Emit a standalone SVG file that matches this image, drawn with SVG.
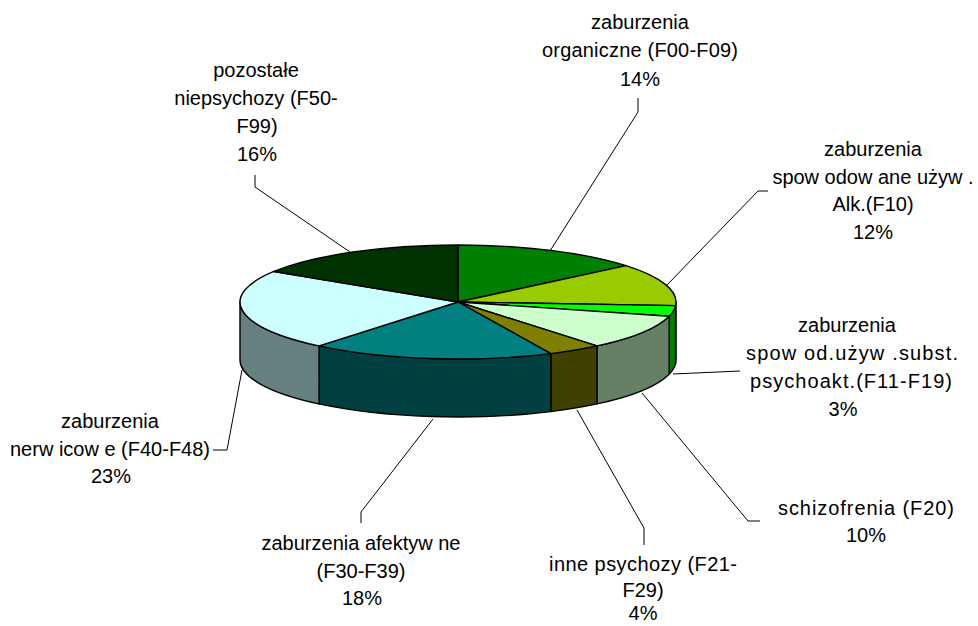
<svg xmlns="http://www.w3.org/2000/svg" width="978" height="626" viewBox="0 0 978 626">
<style>
.t { font-family: "Liberation Sans", Arial, sans-serif; font-size: 20px; fill: #000; text-anchor: middle; }
.e { stroke: #000; stroke-width: 1.4; stroke-linejoin: round; }
.lead { fill: none; stroke: #000; stroke-width: 1; }
</style>
<rect width="978" height="626" fill="#fff"/>
<g id="slice-organiczne">
  <path class="e" fill="#008000" d="M458 302 L458 245 A218 57 0 0 1 625.97 265.67 Z"/>
  <text class="t" x="640" y="28.5">zaburzenia</text>
  <text class="t" x="640" y="57" textLength="196" lengthAdjust="spacing">organiczne (F00-F09)</text>
  <text class="t" x="640" y="86">14%</text>
</g>
<g id="slice-alkohol">
  <path class="e" fill="#4C6600" d="M676 302 A218 57 0 0 1 675.57 305.58 L675.57 363.58 A218 57 0 0 0 676 360 Z"/>
  <path class="e" fill="#99CC00" d="M458 302 L625.97 265.67 A218 57 0 0 1 675.57 305.58 Z"/>
  <text class="t" x="873" y="156">zaburzenia</text>
  <text class="t" x="873" y="183.5">spow odow ane używ .</text>
  <text class="t" x="873" y="211">Alk.(F10)</text>
  <text class="t" x="873" y="238.5">12%</text>
</g>
<g id="slice-psychoakt">
  <path class="e" fill="#008000" d="M675.57 305.58 A218 57 0 0 1 669.15 316.18 L669.15 374.18 A218 57 0 0 0 675.57 363.58 Z"/>
  <path class="e" fill="#00FF00" d="M458 302 L675.57 305.58 A218 57 0 0 1 669.15 316.18 Z"/>
  <text class="t" x="847" y="332">zaburzenia</text>
  <text class="t" x="852" y="360" textLength="212" lengthAdjust="spacing">spow od.używ .subst.</text>
  <text class="t" x="851" y="388" textLength="202" lengthAdjust="spacing">psychoakt.(F11-F19)</text>
  <text class="t" x="843" y="416">3%</text>
</g>
<g id="slice-schizofrenia">
  <path class="e" fill="#668066" d="M669.15 316.18 A218 57 0 0 1 596.96 345.92 L596.96 403.92 A218 57 0 0 0 669.15 374.18 Z"/>
  <path class="e" fill="#CCFFCC" d="M458 302 L669.15 316.18 A218 57 0 0 1 596.96 345.92 Z"/>
  <text class="t" x="866" y="515" textLength="176" lengthAdjust="spacing">schizofrenia (F20)</text>
  <text class="t" x="866" y="542">10%</text>
</g>
<g id="slice-inne-psychozy">
  <path class="e" fill="#404000" d="M596.96 345.92 A218 57 0 0 1 550.82 353.58 L550.82 411.58 A218 57 0 0 0 596.96 403.92 Z"/>
  <path class="e" fill="#808000" d="M458 302 L596.96 345.92 A218 57 0 0 1 550.82 353.58 Z"/>
  <text class="t" x="643" y="571" textLength="188" lengthAdjust="spacing">inne psychozy (F21-</text>
  <text class="t" x="643" y="597">F29)</text>
  <text class="t" x="643" y="620">4%</text>
</g>
<g id="slice-afektywne">
  <path class="e" fill="#004040" d="M550.82 353.58 A218 57 0 0 1 319.04 345.92 L319.04 403.92 A218 57 0 0 0 550.82 411.58 Z"/>
  <path class="e" fill="#008080" d="M458 302 L550.82 353.58 A218 57 0 0 1 319.04 345.92 Z"/>
  <text class="t" x="361" y="550">zaburzenia afektyw ne</text>
  <text class="t" x="361" y="578">(F30-F39)</text>
  <text class="t" x="362" y="605">18%</text>
</g>
<g id="slice-nerwicowe">
  <path class="e" fill="#668080" d="M319.04 345.92 A218 57 0 0 1 240 302 L240 360 A218 57 0 0 0 319.04 403.92 Z"/>
  <path class="e" fill="#CCFFFF" d="M458 302 L319.04 345.92 A218 57 0 0 1 273.94 271.46 Z"/>
  <text class="t" x="110" y="428">zaburzenia</text>
  <text class="t" x="110" y="456">nerw icow e (F40-F48)</text>
  <text class="t" x="111" y="483">23%</text>
</g>
<g id="slice-pozostale">
  <path class="e" fill="#003300" d="M458 302 L273.94 271.46 A218 57 0 0 1 458 245 Z"/>
  <text class="t" x="256" y="77">pozostałe</text>
  <text class="t" x="256" y="105">niepsychozy (F50-</text>
  <text class="t" x="257" y="133">F99)</text>
  <text class="t" x="257" y="161">16%</text>
</g>
<g id="connectors">
  <polyline class="lead" points="550,251 638,112 638,98"/>
  <polyline class="lead" points="667,285 758,191 768,191"/>
  <polyline class="lead" points="673,374 740,371"/>
  <polyline class="lead" points="642,393 748,521 760,521"/>
  <polyline class="lead" points="577,410 644,528 644,545"/>
  <polyline class="lead" points="433,419 361,512 361,523"/>
  <polyline class="lead" points="242,370 227,450 213,450"/>
  <polyline class="lead" points="350,252 255,187 255,175"/>
</g>
</svg>
